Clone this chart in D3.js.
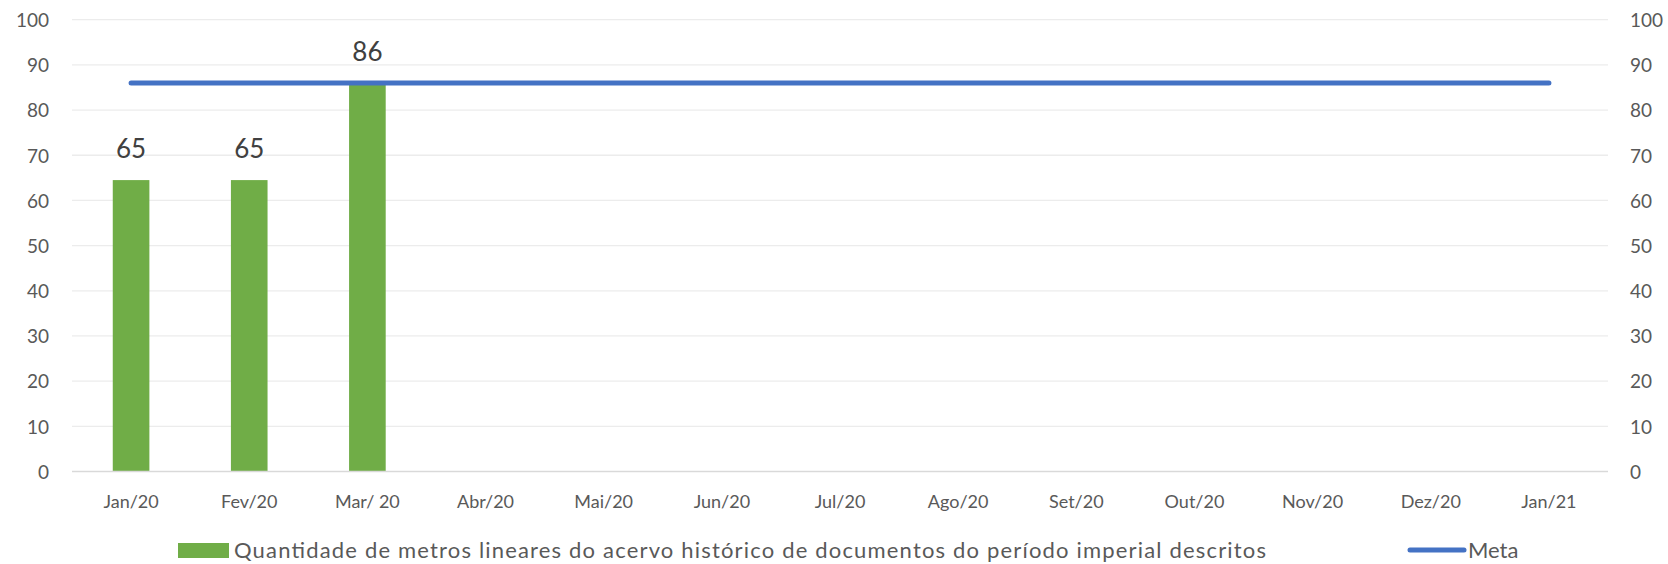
<!DOCTYPE html>
<html>
<head>
<meta charset="utf-8">
<script src="https://cdn.jsdelivr.net/npm/d3@7"></script>
<style>
  html, body { margin: 0; padding: 0; background: #ffffff; }
  svg { display: block; font-family: Lato, "Open Sans", sans-serif; }
</style>
</head>
<body>
<svg id="chart" width="1668" height="564"></svg>
<script>
const categories = ["Jan/20","Fev/20","Mar/ 20","Abr/20","Mai/20","Jun/20","Jul/20","Ago/20","Set/20","Out/20","Nov/20","Dez/20","Jan/21"];
const barValues = [64.5, 64.5, 86, null, null, null, null, null, null, null, null, null, null];
const metaValues = [86, 86, 86, 86, 86, 86, 86, 86, 86, 86, 86, 86, 86];
const yTicks = [0, 10, 20, 30, 40, 50, 60, 70, 80, 90, 100];
const barLegend = "Quantidade de metros lineares do acervo histórico de documentos do período imperial descritos";
const lineLegend = "Meta";

(function () {
const svg = d3.select("#chart");
const pLeft = 72, pRight = 1608, pTop = 19.7, pBottom = 471.5;

const x = d3.scaleBand().domain(categories).range([pLeft, pRight])
  .paddingInner(0.69).paddingOuter(0.345);
const y = d3.scaleLinear().domain([0, 100]).range([pBottom, pTop]);
const fmt = d3.format(".0f");

// gridlines
svg.append("g").selectAll("line").data(yTicks.filter(d => d > 0)).join("line")
  .attr("x1", pLeft).attr("x2", pRight)
  .attr("y1", d => y(d)).attr("y2", d => y(d))
  .attr("stroke", "#ececec").attr("stroke-width", 1.3);

// left axis labels
const yl = d3.axisLeft(y).tickValues(yTicks).tickSize(0).tickPadding(0);
const gl = svg.append("g").attr("transform", `translate(49,0)`).call(yl);
gl.select(".domain").remove();
gl.selectAll("text").attr("font-size", 19).attr("fill", "#595959")
  .attr("font-family", "Lato, sans-serif").attr("dy", "0.36em");

// right axis labels
const yr = d3.axisRight(y).tickValues(yTicks).tickSize(0).tickPadding(0);
const gr = svg.append("g").attr("transform", `translate(1630,0)`).call(yr);
gr.select(".domain").remove();
gr.selectAll("text").attr("font-size", 19).attr("fill", "#595959")
  .attr("font-family", "Lato, sans-serif").attr("dy", "0.36em");

// bars
const barData = categories.map((c, i) => ({c, v: barValues[i]})).filter(d => d.v != null);
svg.append("g").selectAll("rect").data(barData).join("rect")
  .attr("x", d => x(d.c)).attr("width", x.bandwidth())
  .attr("y", d => y(d.v)).attr("height", d => y(0) - y(d.v))
  .attr("fill", "#70ad47");

// baseline
svg.append("line").attr("x1", pLeft).attr("x2", pRight)
  .attr("y1", y(0)).attr("y2", y(0))
  .attr("stroke", "#d9d9d9").attr("stroke-width", 1.5);

// x axis labels
const xa = d3.axisBottom(x).tickSize(0).tickPadding(0);
const gx = svg.append("g").attr("transform", `translate(0,${y(0)})`).call(xa);
gx.select(".domain").remove();
gx.selectAll("text").attr("font-size", 18).attr("fill", "#595959")
  .attr("font-family", "Lato, sans-serif").attr("dy", 0).attr("y", 36);

// meta line
const lineData = categories.map((c, i) => ({c, v: metaValues[i]}));
svg.append("path").datum(lineData)
  .attr("d", d3.line().x(d => x(d.c) + x.bandwidth() / 2).y(d => y(d.v)))
  .attr("fill", "none").attr("stroke", "#4472c4").attr("stroke-width", 5)
  .attr("stroke-linecap", "round");

// data labels
svg.append("g").selectAll("text").data(barData).join("text")
  .attr("x", d => x(d.c) + x.bandwidth() / 2).attr("y", d => y(d.v) - 22)
  .attr("text-anchor", "middle").attr("font-size", 26).attr("fill", "#404040")
  .text(d => fmt(d.v));

// legend
const lg = svg.append("g");
lg.append("rect").attr("x", 178).attr("y", 543).attr("width", 51).attr("height", 15).attr("fill", "#70ad47");
lg.append("text").attr("x", 234).attr("y", 558).attr("font-size", 22).attr("fill", "#595959")
  .attr("textLength", 1032).attr("lengthAdjust", "spacing").text(barLegend);
lg.append("line").attr("x1", 1410).attr("x2", 1464).attr("y1", 550).attr("y2", 550)
  .attr("stroke", "#4472c4").attr("stroke-width", 5).attr("stroke-linecap", "round");
lg.append("text").attr("x", 1468).attr("y", 558).attr("font-size", 22).attr("fill", "#595959")
  .text(lineLegend);
})();
</script>
</body>
</html>
